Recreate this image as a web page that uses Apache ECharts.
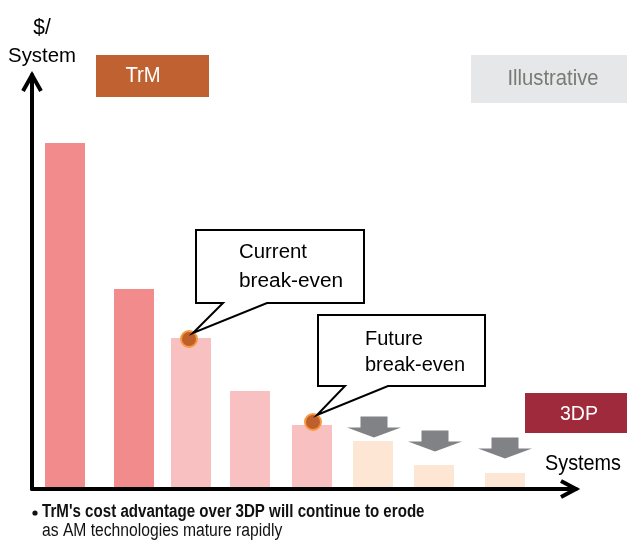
<!DOCTYPE html>
<html>
<head>
<meta charset="utf-8">
<script src="https://cdn.jsdelivr.net/npm/echarts@6/dist/echarts.min.js"></script>
<style>html,body{margin:0;padding:0;background:#fff}#c{width:627px;height:543px}</style>
</head>
<body>
<div id="c"></div>
<script>
// ---- data ----
const systemsVolume = [33, 102, 159, 218, 280, 341, 402, 473];
const costPerSystem = [346, 200, 151, 98, 64, 48, 24, 16];
const barPhase = ['trm', 'trm', 'mid', 'mid', 'mid', 'late', 'late', 'late'];
const breakEvenPoints = [[157, 150], [281, 67]];
const declineArrowX = [342, 403, 473];
const declineArrowY = [62, 48, 41];
const breakEvenLabels = [['Current', 'break-even'], ['Future', 'break-even']];
const yAxisTitle = ['$/', 'System'];
const xAxisTitle = 'Systems';
const footnote = ["TrM's cost advantage over 3DP will continue to erode", 'as AM technologies mature rapidly'];

const FONT = '"Liberation Sans", Arial, sans-serif';
const phaseColor = { trm: '#F28B8C', mid: '#F8C0C0', late: '#FDE6D3' };

const chart = echarts.init(document.getElementById('c'), null, { renderer: 'canvas' });
const XMAX = 544, YMAX = 414;
const arrowPath = 'path://M13.5,0 L40.5,0 L40.5,11 L54,11 L27,21 L0,11 L13.5,11 Z';

chart.setOption({
  backgroundColor: '#fff',
  animation: false,
  grid: { left: 32, right: 51, top: 75, bottom: 54 },
  xAxis: {
    type: 'value', min: 0, max: XMAX, z: 10,
    axisLine: { show: true, onZero: false, lineStyle: { color: '#000', width: 4 } },
    axisTick: { show: false }, axisLabel: { show: false }, splitLine: { show: false }
  },
  yAxis: {
    type: 'value', min: 0, max: YMAX, z: 10,
    axisLine: { show: true, onZero: false, lineStyle: { color: '#000', width: 4 } },
    axisTick: { show: false }, axisLabel: { show: false }, splitLine: { show: false }
  },
  series: [
    {
      type: 'bar', barWidth: 40, z: 1,
      data: systemsVolume.map((x, i) => ({
        value: [x, costPerSystem[i]],
        itemStyle: { color: phaseColor[barPhase[i]] }
      }))
    },
    {
      type: 'scatter', z: 3, symbol: arrowPath, symbolSize: [54, 21],
      itemStyle: { color: '#808285', opacity: 1 },
      data: declineArrowX.map((x, i) => [x, declineArrowY[i]])
    },
    {
      type: 'scatter', z: 5, symbolSize: 16,
      itemStyle: { color: '#BF5F2C', borderColor: '#F59A3F', borderWidth: 2, opacity: 1 },
      data: breakEvenPoints
    }
  ]
});

function px(p) { return chart.convertToPixel({ gridIndex: 0 }, p); }
const xEnd = px([XMAX, 0]);
const yEnd = px([0, YMAX]);
const d1 = px(breakEvenPoints[0]);
const d2 = px(breakEvenPoints[1]);

function callout(box, base, tip) {
  const [x0, y0, x1, y1] = box;
  return {
    type: 'polygon', z: 20,
    shape: { points: [[x0, y0], [x1, y0], [x1, y1], [base[1], y1], tip, [base[0], y1], [x0, y1]] },
    style: { fill: '#fff', stroke: '#000', lineWidth: 2 }
  };
}
// x, y = anchor, y is the cap-height centre
function txt(x, y, text, size, opt, sx) {
  return { type: 'text', z: 30, x: x, y: y, scaleX: sx || 1, scaleY: 1,
    style: Object.assign({ text: text, font: size + 'px ' + FONT, fill: '#000', textVerticalAlign: 'middle' }, opt || {}) };
}

chart.setOption({
  graphic: [
    // axis arrow heads
    { type: 'polyline', z: 12, shape: { points: [[yEnd[0] - 9, yEnd[1] + 16], [yEnd[0], yEnd[1]], [yEnd[0] + 9, yEnd[1] + 16]] },
      style: { stroke: '#000', lineWidth: 4, fill: null, lineJoin: 'miter' } },
    { type: 'polyline', z: 12, shape: { points: [[xEnd[0] - 15, xEnd[1] - 8], [xEnd[0], xEnd[1]], [xEnd[0] - 15, xEnd[1] + 8]] },
      style: { stroke: '#000', lineWidth: 4, fill: null, lineJoin: 'miter' } },
    // axis titles
    txt(42, 28, yAxisTitle[0], 22, { textAlign: 'center' }, 0.95),
    txt(42, 56, yAxisTitle[1], 21, { textAlign: 'center' }, 0.97),
    txt(583, 464, xAxisTitle, 22, { textAlign: 'center' }, 0.9),
    // tags
    { type: 'rect', z: 15, shape: { x: 96, y: 55, width: 113, height: 42 }, style: { fill: '#BF6131' } },
    txt(143, 76, 'TrM', 22, { textAlign: 'center', fill: '#fff' }, 0.92),
    { type: 'rect', z: 15, shape: { x: 471, y: 55, width: 156, height: 48 }, style: { fill: '#E6E7E8' } },
    txt(553, 79, 'Illustrative', 22, { textAlign: 'center', fill: '#7A7A75' }, 0.92),
    { type: 'rect', z: 15, shape: { x: 525, y: 393, width: 102, height: 40 }, style: { fill: '#9E2A3B' } },
    txt(579, 414, '3DP', 21, { textAlign: 'center', fill: '#fff' }, 0.93),
    // callouts
    callout([196, 230, 364, 303], [223, 267], [d1[0] + 4, d1[1] - 6]),
    txt(239, 252, breakEvenLabels[0][0], 20, {}, 1.02),
    txt(239, 281, breakEvenLabels[0][1], 20, {}, 1.04),
    callout([318, 315, 485, 386], [345, 388], [d2[0] + 4, d2[1] - 7]),
    txt(365, 339, breakEvenLabels[1][0], 20, {}, 1.0),
    txt(365, 365, breakEvenLabels[1][1], 20, {}, 1.0),
    // footnote
    { type: 'circle', z: 30, shape: { cx: 35, cy: 513, r: 2.6 }, style: { fill: '#111' } },
    txt(42, 512, footnote[0], 18, { font: 'bold 18px ' + FONT, fill: '#111' }, 0.84),
    txt(42, 531, footnote[1], 18, { fill: '#111' }, 0.87)
  ]
});
</script>
</body>
</html>
